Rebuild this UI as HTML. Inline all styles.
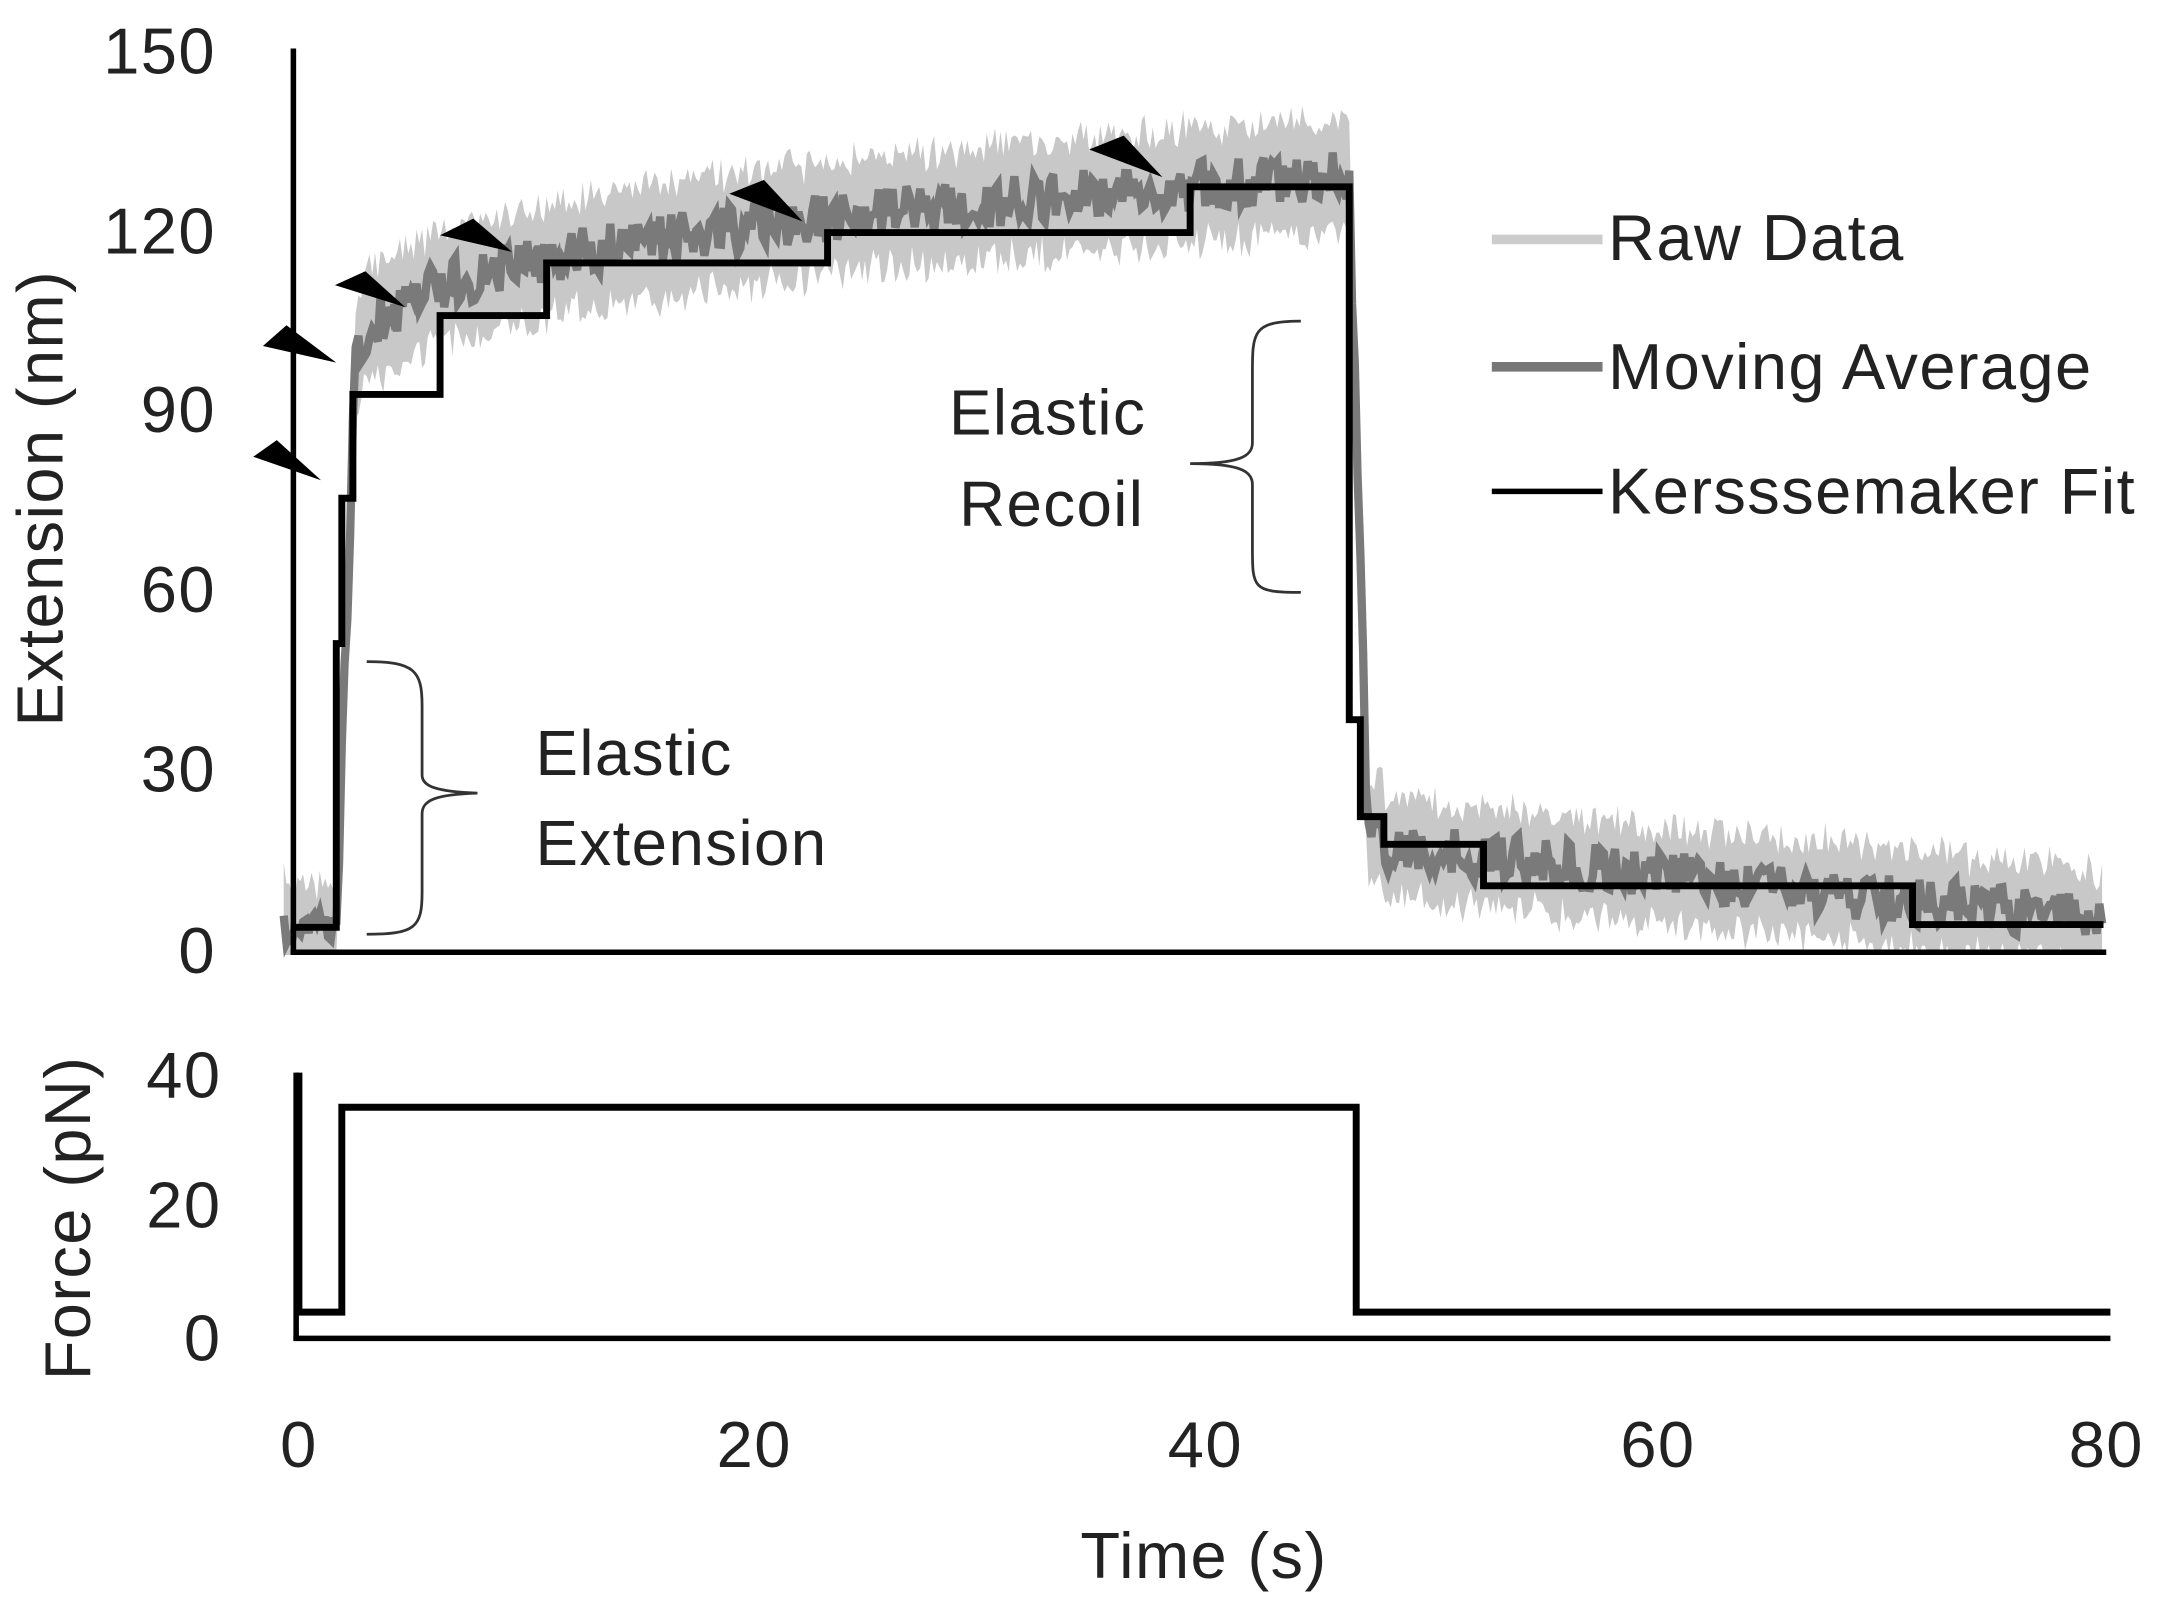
<!DOCTYPE html>
<html><head><meta charset="utf-8"><style>
html,body{margin:0;padding:0;background:#fff;}
svg{display:block;}
text{font-family:"Liberation Sans","DejaVu Sans",sans-serif;fill:#222;letter-spacing:1px;}
</style></head><body>
<svg id="s" width="2163" height="1600" viewBox="0 0 1563 1156" preserveAspectRatio="none" xmlns="http://www.w3.org/2000/svg">
<g id="data"></g>
<line x1="212" y1="35" x2="212" y2="690" stroke="#000" stroke-width="4"/>
<line x1="210" y1="688" x2="1522" y2="688" stroke="#000" stroke-width="4"/>
<line x1="214" y1="775" x2="214" y2="968" stroke="#000" stroke-width="4"/>
<line x1="212" y1="967" x2="1525" y2="967" stroke="#000" stroke-width="4"/>
<polyline fill="none" stroke="#000" stroke-width="5" points="210,670 243,670 243,465 247,465 247,360 255,360 255,285 318,285 318,228 395,228 395,190 598,190 598,168 860,168 860,135 975,135 975,520 983,520 983,590 1000,590 1000,610 1072,610 1072,640 1382,640 1382,668 1520,668"/>
<polyline fill="none" stroke="#000" stroke-width="5" points="216,775 216,948 247,948 247,800 980,800 980,948 1525,948"/>
<g fill="#000">
<polygon points="183,330 200,318 232,347"/>
<polygon points="190,250 207,235 243,262"/>
<polygon points="242,206 264,196 293,222"/>
<polygon points="318,170 342,158 370,182"/>
<polygon points="527,140 552,130 580,160"/>
<polygon points="787,108 812,98 840,128"/>
</g>
<path d="M940,232 C905,232 905,240 905,270 L905,320 C905,330 895,335 860,335 C895,335 905,340 905,350 L905,395 C905,425 905,428 940,428" fill="none" stroke="#333" stroke-width="2"/>
<path d="M265,478 C300,478 305,485 305,510 L305,560 C305,568 315,572 345,573 C315,574 305,578 305,588 L305,645 C305,670 300,675 265,675" fill="none" stroke="#333" stroke-width="2"/>
<g font-size="46">
<text x="757" y="314" text-anchor="middle">Elastic</text>
<text x="760" y="380" text-anchor="middle">Recoil</text>
<text x="387" y="560">Elastic</text>
<text x="387" y="625">Extension</text>
</g>
<line x1="1078" y1="173" x2="1158" y2="173" stroke="#ccc" stroke-width="7"/>
<line x1="1078" y1="265" x2="1158" y2="265" stroke="#777" stroke-width="7"/>
<line x1="1078" y1="355" x2="1158" y2="355" stroke="#000" stroke-width="4"/>
<g font-size="47" style="letter-spacing:2px">
<text x="1162" y="188">Raw Data</text>
<text x="1162" y="281">Moving Average</text>
<text x="1162" y="371">Kersssemaker Fit</text>
</g>
<g font-size="47" text-anchor="end" style="letter-spacing:2px">
<text x="156" y="53">150</text><text x="156" y="183">120</text><text x="156" y="312">90</text>
<text x="156" y="442">60</text><text x="156" y="572">30</text><text x="156" y="703">0</text>
<text x="160" y="793">40</text><text x="160" y="887">20</text><text x="160" y="983">0</text>
</g>
<g font-size="47" text-anchor="middle" style="letter-spacing:2px">
<text x="216" y="1060">0</text><text x="545" y="1060">20</text><text x="871" y="1060">40</text>
<text x="1198" y="1060">60</text><text x="1522" y="1060">80</text>
<text x="870" y="1140">Time (s)</text>
</g>
<text transform="translate(45,360) rotate(-90)" font-size="47" text-anchor="middle">Extension (nm)</text>
<text transform="translate(65,880) rotate(-90)" font-size="47" text-anchor="middle">Force (pN)</text>
</svg>
<script>
(function(){
var seed=7;function r(){seed=(seed*16807)%2147483647;return seed/2147483647;}
function base(x){
 if(x<243) return 672;
 if(x<256) return 672-(x-243)/13*390;
 if(x<975){var t=(x-256)/(975-256);return 282-155*Math.pow(t,0.3);}
 if(x<988) return 130+(x-975)/13*465;
 if(x<1000) return 600;
 return 612+ (x-1000)/520*52;
}
var up=[],lo=[],mid=[];
for(var x=205;x<=1520;x+=2){
 var b=base(x);var n=(r()-0.5)*30;var w=(x>246&&x<975)?30:24;
 up.push(x+","+Math.max(60,b-w-r()*22+n*0.3));
 lo.push(x+","+Math.min(690,b+w+r()*22+n*0.3));
 mid.push(x+","+Math.min(688,b+(r()-0.5)*36));
}
var g=document.getElementById('data');
var ns="http://www.w3.org/2000/svg";
var p=document.createElementNS(ns,'polygon');
p.setAttribute('points',up.concat(lo.reverse()).join(' '));p.setAttribute('fill','#c8c8c8');g.appendChild(p);
var m=document.createElementNS(ns,'polyline');
m.setAttribute('points',mid.join(' '));m.setAttribute('fill','none');m.setAttribute('stroke','#7a7a7a');m.setAttribute('stroke-width','6');g.appendChild(m);
})();
</script>
</body></html>
